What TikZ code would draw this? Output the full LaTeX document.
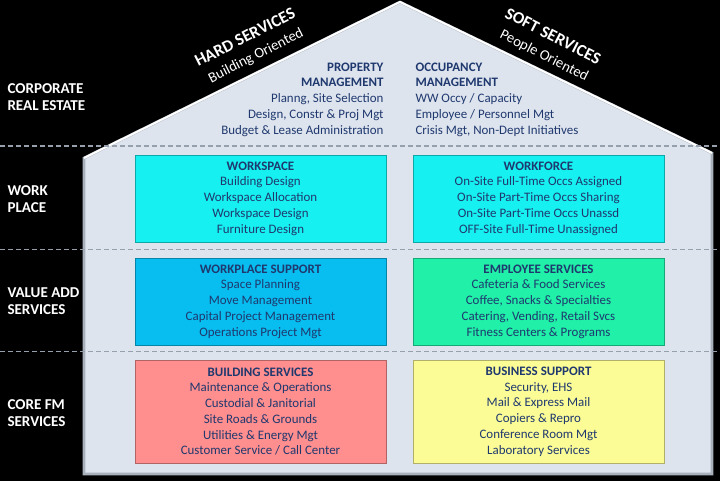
\documentclass[tikz,border=0pt]{standalone}
\usepackage{fontspec}
\setmainfont{Carlito}
\usetikzlibrary{positioning}

\definecolor{housefill}{RGB}{221,228,238}
\definecolor{wallgray}{RGB}{168,176,188}
\definecolor{dashgray}{RGB}{150,160,172}
\definecolor{navytext}{RGB}{31,56,110}
\definecolor{workcyan}{RGB}{22,240,240}
\definecolor{supportblue}{RGB}{8,190,240}
\definecolor{employeegreen}{RGB}{32,240,168}
\definecolor{buildingpink}{RGB}{255,142,142}
\definecolor{businessyellow}{RGB}{252,252,150}

\tikzset{every picture/.style={line width=0.75pt}}
\tikzset{
  rowlabel/.style={anchor=west, align=left, inner sep=0pt, text=white, font=\fontsize{11.3}{12.6}\selectfont\bfseries},
  roofhead/.style={inner sep=0pt, text=white, font=\fontsize{12.7}{14}\selectfont\bfseries},
  roofsub/.style={inner sep=0pt, text=white, font=\fontsize{11}{13}\selectfont},
  mgmttext/.style={inner sep=0pt, text=navytext, font=\fontsize{9.7}{11.8}\selectfont},
  servicebox/.style={fill=#1, draw=#1!70!black, line width=0.6pt, minimum width=188.25pt, minimum height=65.25pt, inner sep=0pt, align=center, text=navytext, font=\fontsize{9.7}{11.8}\selectfont},
  dashrule/.style={dashgray, line width=1.1pt, dash pattern=on 3.75pt off 2.25pt},
}

\begin{document}
\begin{tikzpicture}[x=0.75pt,y=0.75pt,yscale=-1,xscale=1]
	\useasboundingbox (0,0) rectangle (720,481);
	%Shape: Rectangle (background)
	\fill[black] (0,0) rectangle (720,481);

	%Shape: House
	\draw[fill=housefill, draw=wallgray, line width=2pt] (84,474) -- (84,158) -- (400,2) -- (712,153) -- (712,474) -- cycle;
	%Roof edges
	\draw[white, line width=1.5pt, line join=round] (84,158) -- (400,2) -- (712,153);

	%Dashed rules between the rows
	\draw[dashrule] (0,146) -- (720,146);
	\draw[dashrule] (0,249.5) -- (720,249.5);
	\draw[dashrule] (0,351.5) -- (720,351.5);

	% Roof labels
	\node[roofhead, rotate=27] (hard) at (245,37) {HARD SERVICES};
	\node[roofsub, rotate=27] (hardsub) at (256,56) {Building Oriented};
	\node[roofhead, rotate=-27] (soft) at (553,36) {SOFT SERVICES};
	\node[roofsub, rotate=-27] (softsub) at (544,56) {People Oriented};

	% Row labels
	\node[rowlabel] (corporate) at (7,97.5) {CORPORATE\\REAL ESTATE};
	\node[rowlabel] (workplace) at (7,199) {WORK\\PLACE};
	\node[rowlabel] (valueadd) at (7,301) {VALUE ADD\\SERVICES};
	\node[rowlabel] (corefm) at (7,413) {CORE FM\\SERVICES};

	% Text Node
	\node[mgmttext, anchor=east, align=right] (property) at (384,99.5) {\textbf{PROPERTY}\\\textbf{MANAGEMENT}\\Planng, Site Selection\\Design, Constr \& Proj Mgt\\Budget \& Lease Administration};
	% Text Node
	\node[mgmttext, anchor=west, align=left] (occupancy) at (415,99.5) {\textbf{OCCUPANCY}\\\textbf{MANAGEMENT}\\WW Occy / Capacity\\Employee / Personnel Mgt\\Crisis Mgt, Non-Dept Initiatives};

	%Shape: Rectangle
	\node[servicebox=workcyan] (workspace) at (260.5,198.5) {\textbf{WORKSPACE}\\Building Design\\Workspace Allocation\\Workspace Design\\Furniture Design};
	%Shape: Rectangle
	\node[servicebox=workcyan] (workforce) at (538.5,198.5) {\textbf{WORKFORCE}\\On-Site Full-Time Occs Assigned\\On-Site Part-Time Occs Sharing\\On-Site Part-Time Occs Unassd\\OFF-Site Full-Time Unassigned};
	%Shape: Rectangle
	\node[servicebox=supportblue] (wpsupport) at (260.5,301.5) {\textbf{WORKPLACE SUPPORT}\\Space Planning\\Move Management\\Capital Project Management\\Operations Project Mgt};
	%Shape: Rectangle
	\node[servicebox=employeegreen] (employee) at (538.5,301.5) {\textbf{EMPLOYEE SERVICES}\\Cafeteria \& Food Services\\Coffee, Snacks \& Specialties\\Catering, Vending, Retail Svcs\\Fitness Centers \& Programs};
	%Shape: Rectangle
	\node[servicebox=buildingpink, minimum height=77.25pt] (building) at (260.5,411.5) {\textbf{BUILDING SERVICES}\\Maintenance \& Operations\\Custodial \& Janitorial\\Site Roads \& Grounds\\Utilities \& Energy Mgt\\Customer Service / Call Center};
	%Shape: Rectangle
	\node[servicebox=businessyellow, minimum height=77.25pt] (business) at (538.5,411.5) {\textbf{BUSINESS SUPPORT}\\Security, EHS\\Mail \& Express Mail\\Copiers \& Repro\\Conference Room Mgt\\Laboratory Services};

\end{tikzpicture}
\end{document}
